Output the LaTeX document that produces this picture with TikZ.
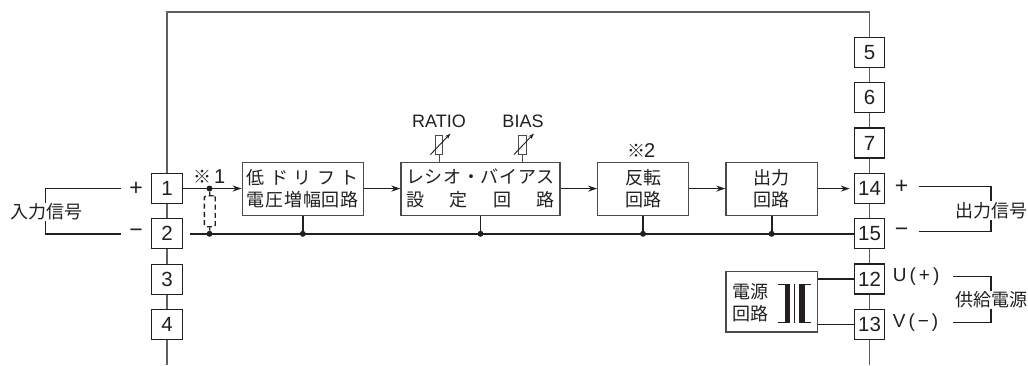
\documentclass[tikz,border=0pt]{standalone}
\usepackage{fontspec}
\setmainfont{Liberation Sans}
\newfontfamily\jp{Noto Sans CJK JP}
\usetikzlibrary{arrows.meta}
\definecolor{ink}{HTML}{231F20}
\definecolor{wire}{HTML}{5F5F5F}
\definecolor{edge}{HTML}{4A4A4A}
\newcommand{\spaced}[2]{\makebox[#1pt][s]{#2}}
\tikzset{
  x=1pt,y=-1pt,
  lab/.style={font=\fontsize{18}{22.5}\selectfont\jp,text=ink,inner sep=0pt,align=center},
  latin/.style={font=\fontsize{18}{21}\selectfont,text=ink,inner sep=0pt},
  signtext/.style={latin,font=\fontsize{23}{24}\selectfont},
  term/.style={draw=ink,line width=1.1pt,fill=white,minimum width=30.4pt,minimum height=30pt,inner sep=0pt,font=\fontsize{20.5}{23}\selectfont,text=ink},
  block/.style={draw=edge,line width=1.2pt,fill=white,minimum height=53pt,inner sep=0pt,lab},
  spine/.style={draw=wire,line width=1.3pt},
  thin/.style={draw=ink,line width=1.3pt},
  bus/.style={draw=ink,line width=1.8pt},
  sig/.style={draw=ink,line width=1.4pt,-{Stealth[length=9pt,width=6pt]}},
  dot/.style={circle,fill=ink,inner sep=0pt,minimum size=6pt},
  vr/.style={draw=edge,line width=1pt,fill=white,minimum width=7.6pt,minimum height=18.6pt,inner sep=0pt},
}
\begin{document}
\begin{tikzpicture}
\useasboundingbox (0,0) rectangle (1028,365);
% frame line
\coordinate (tl) at (167,12);
\coordinate (tr) at (869.5,12);
\coordinate (bl) at (167,365);
\coordinate (br) at (869.5,365);
\draw[spine] (bl) -- (tl) -- (tr) -- (br);
% terminals
\foreach \n/\y in {1/188.3,2/233.7,3/279.2,4/324.7}
  \node[term] (t\n) at (167,\y) {\n};
\foreach \n/\y in {5/52.5,6/97.8,7/143,14/188.3,15/233.8,12/279,13/324.6}
  \node[term] (t\n) at (869.5,\y) {\n};
% blocks
\node[block,minimum width=121pt] (a) at (302.8,188.6) {\spaced{112}{低\hfil ド\hfil リ\hfil フ\hfil ト}\\\spaced{112}{電\hfil 圧\hfil 増\hfil 幅\hfil 回\hfil 路}};
\node[block,minimum width=159pt] (b) at (480.5,188.6) {\spaced{149}{レ\hfil シ\hfil オ\hfil ・\hfil バ\hfil イ\hfil ア\hfil ス}\\\spaced{149}{設\hfil 定\hfil 回\hfil 路}};
\node[block,minimum width=90.6pt] (c) at (643,188.6) {反転\\回路};
\node[block,minimum width=91.3pt] (d) at (771.6,188.6) {出力\\回路};
\node[block,minimum width=91.3pt,minimum height=60.3pt] (p) at (771.6,301.8) {};
\node[lab,anchor=center] (ptext) at (750,302.8) {電源\\回路};
% signal path
\coordinate (s1) at (209.5,188.5);
\coordinate (s2) at (209.5,233.8);
\coordinate (busstart) at (190,233.8);
\draw[thin] (t1.east |- s1) -- (s1);
\draw[sig] (s1) -- (a.west |- s1);
\draw[sig] (a.east) -- (b.west);
\draw[sig] (b.east) -- (c.west);
\draw[sig] (c.east) -- (d.west);
\draw[sig,shorten >=4pt] (d.east) -- (t14.west |- d.east);
% common bus
\draw[bus] (busstart) -- (t15.west);
\foreach \b in {a,b,c,d} {
  \draw[bus] (\b.south) -- (\b.south |- t15.west);
  \node[dot] at (\b.south |- t15.west) {};
}
\node[dot] (d1) at (s1) {};
\node[dot] (d2) at (s2) {};
% dashed shield
\node[draw=ink,dash pattern=on 5pt off 3.2pt,line width=1.4pt,rounded corners=1.5pt,minimum width=10.8pt,minimum height=31pt,inner sep=0pt] (sh) at (209.8,211.2) {};
\draw[ink,line width=1.2pt] (d1) -- (sh.north);
\draw[ink,line width=1.2pt] (sh.south) -- (d2);
\node[lab,anchor=base west] (n1) at (193,183) {※};
\node[latin,anchor=base west,font=\fontsize{20}{21}\selectfont] (n1b) at (214,183) {1};
\node[lab,anchor=base] (n2) at (636,157) {※};
\node[latin,anchor=base west,font=\fontsize{20}{21}\selectfont] (n2b) at (644,157) {2};
% variable resistors
\node[vr] (r1) at (439,145) {};
\node[vr] (r2) at (522.5,145) {};
\draw[edge,line width=1pt] (r1.south) -- (b.north -| r1);
\draw[edge,line width=1pt] (r2.south) -- (b.north -| r2);
\foreach \r in {r1,r2}
  \draw[ink,line width=0.9pt,-{Stealth[length=6pt,width=4pt]}] ([shift={(-8.5,9.5)}]\r.center) -- ([shift={(11.5,-11.5)}]\r.center);
\node[latin] (ratio) at (439,121) {RATIO};
\node[latin] (bias) at (523,121) {BIAS};
% input bracket
\coordinate (ip) at (121,188.5);
\coordinate (im) at (121,234);
\coordinate (ic1) at (45.5,188.5);
\coordinate (ic2) at (45.5,234);
\draw[thin] (ip) -- (ic1) -- (ic2) -- (im);
\node[lab,fill=white,inner ysep=1pt] (inp) at (46,212) {入力信号};
\node[signtext] (pl) at (136,188.5) {+};
\node[signtext] (mi) at (136,233.5) {−};
% output bracket
\coordinate (op) at (919,186.7);
\coordinate (om) at (919,231.7);
\coordinate (oc1) at (991,186.7);
\coordinate (oc2) at (991,231.7);
\draw[thin] (op) -- (oc1) -- (oc2) -- (om);
\node[lab,fill=white,inner ysep=1pt] (out) at (991,210.5) {出力信号};
\node[signtext] (opl) at (901.5,187) {+};
\node[signtext] (omi) at (901.5,232) {−};
% supply bracket
\coordinate (up) at (953,276.7);
\coordinate (vm) at (953,322.3);
\coordinate (uc) at (991,276.7);
\coordinate (vc) at (991,322.3);
\draw[thin] (up) -- (uc) -- (vc) -- (vm);
\node[lab,fill=white,inner ysep=1pt] (sup) at (991,300) {供給電源};
\node[latin,anchor=west,font=\fontsize{19}{21}\selectfont] (u) at (892.7,277) {U\hspace{3pt}(\hspace{3pt}+\hspace{3pt})};
\node[latin,anchor=west,font=\fontsize{19}{21}\selectfont] (v) at (892.7,322.5) {V\hspace{3pt}(\hspace{3pt}−\hspace{3pt})};
% power connections
\draw[thin] (t12.west) -- (p.east |- t12.west);
\draw[thin] (t13.west) -- (p.east |- t13.west);
% transformer
\fill[ink] (784.5,284) rectangle (790,322.6);
\fill[ink] (799.3,284) rectangle (805.3,322.6);
\draw[ink,line width=0.9pt] (778,284) -- (790,284) (778,322.6) -- (790,322.6);
\draw[ink,line width=0.9pt] (799.3,284) -- (811,284) (799.3,322.6) -- (811,322.6);
\draw[ink,line width=0.9pt] (794.3,284) -- (794.3,322.6);
\end{tikzpicture}
\end{document}
